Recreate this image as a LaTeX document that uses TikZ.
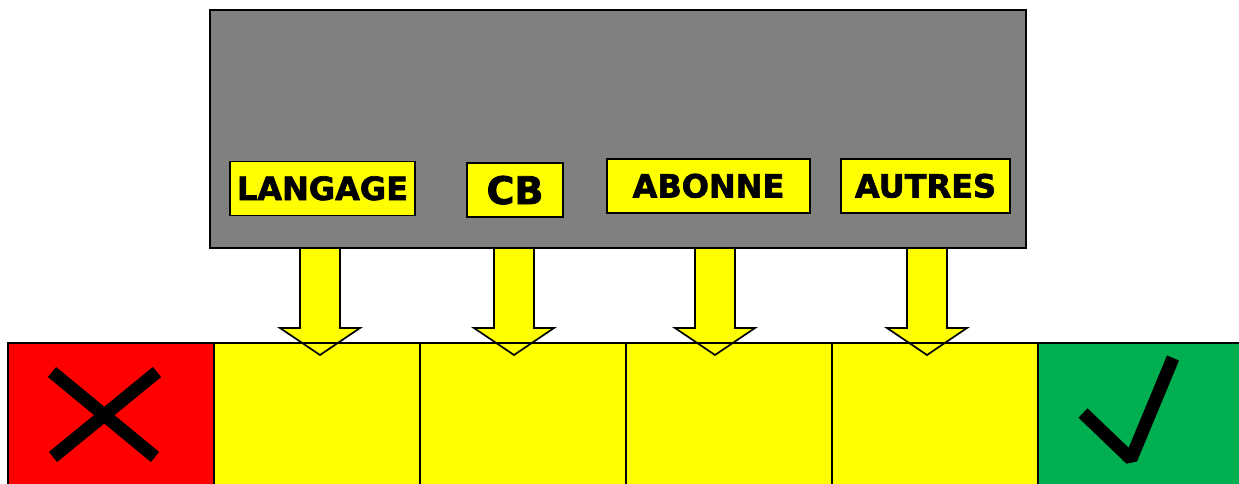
\documentclass[tikz,border=0pt]{standalone}
\usepackage{fontspec}
\setmainfont{DejaVu Sans}
\newfontfamily\tagfont{DejaVu Sans}[BoldFeatures={FakeBold=2}]
\usetikzlibrary{positioning}
\definecolor{panelgray}{HTML}{808080}
\definecolor{tagyellow}{HTML}{FFFF00}
\definecolor{nored}{HTML}{FF0000}
\definecolor{okgreen}{HTML}{00B050}
\tikzset{
  tag/.style={draw, fill=tagyellow, line width=1.5pt, inner sep=0pt,
    font=\tagfont\bfseries\fontsize{32}{32}\selectfont, text height=23pt, text depth=0pt,
    minimum height=54pt},
  cell/.style={draw, line width=2pt, outer sep=0pt, inner sep=0pt,
    minimum width=206pt, minimum height=160pt},
  blockarrow/.style={draw, fill=tagyellow, line width=1.7pt, line join=miter},
  signstroke/.style={line width=13pt, line cap=butt}
}
\begin{document}
\begin{tikzpicture}[x=1pt, y=-1pt]
		\useasboundingbox (0,0) rectangle (1239,484);
		\clip (0,0) rectangle (1239,484);
		% grey panel with the tags
		\node[draw, fill=panelgray, line width=1.5pt, minimum width=816pt, minimum height=238pt] (panel) at (618,129) {};
		\node[tag, minimum width=185pt] (langage) at (322.5,188.5) {LANGAGE};
		\node[tag, minimum width=96pt, font=\tagfont\bfseries\fontsize{38}{38}\selectfont, text height=28pt] (cb) at (515,190) {CB};
		\node[tag, minimum width=203pt] (abonne) at (708.5,186) {ABONNE};
		\node[tag, minimum width=169pt] (autres) at (925.5,186) {AUTRES};
		% row of cells
		\node[cell, fill=nored, anchor=north west] (c0) at (8,343) {};
		\node[cell, fill=tagyellow, right=0pt of c0] (c1) {};
		\node[cell, fill=tagyellow, right=0pt of c1] (c2) {};
		\node[cell, fill=tagyellow, right=0pt of c2] (c3) {};
		\node[cell, fill=tagyellow, right=0pt of c3] (c4) {};
		\node[cell, fill=okgreen, right=0pt of c4] (c5) {};
		% arrows from the panel down to the cells
		\draw[blockarrow] (300,248) -- ++(0,80) -- ++(-20,0) -- ++(40,27) -- ++(40,-27) -- ++(-20,0) -- ++(0,-80) -- cycle;
		\draw[blockarrow] (494,248) -- ++(0,80) -- ++(-20,0) -- ++(40,27) -- ++(40,-27) -- ++(-20,0) -- ++(0,-80) -- cycle;
		\draw[blockarrow] (695,248) -- ++(0,80) -- ++(-20,0) -- ++(40,27) -- ++(40,-27) -- ++(-20,0) -- ++(0,-80) -- cycle;
		\draw[blockarrow] (907,248) -- ++(0,80) -- ++(-20,0) -- ++(40,27) -- ++(40,-27) -- ++(-20,0) -- ++(0,-80) -- cycle;
		\draw[line width=2pt] (c0.north west) -- (c5.north east);
		% cross and tick
		\draw[signstroke] (52,372) -- (155,457);
		\draw[signstroke] (157,372) -- (53,457);
		\draw[signstroke, line join=bevel] (1083,413) -- (1131,459) -- (1173,358);
	\end{tikzpicture}
\end{document}
